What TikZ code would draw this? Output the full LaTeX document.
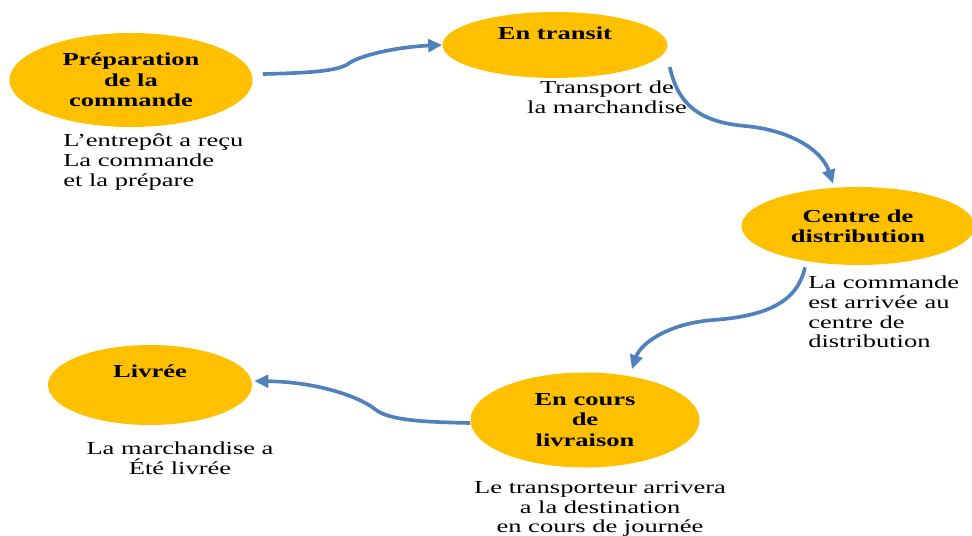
\documentclass[tikz,border=0pt]{standalone}
\usepackage{fontspec}
\setmainfont{Liberation Serif}[FakeStretch=1.45]
\def\px{0.025cm}
\usepackage{tikz}
\usetikzlibrary{shapes.geometric}
\usetikzlibrary{arrows.meta}
\definecolor{gold}{HTML}{FFC000}
\definecolor{flowblue}{HTML}{4F81BD}

\begin{document}
\begin{tikzpicture}[x=\px, y=-\px, font=\fontsize{13}{14}\selectfont]
		\tikzstyle{bubble}=[ellipse, fill=gold, inner sep=0pt, align=center, font=\fontsize{13}{14.5}\selectfont\bfseries]
		\tikzstyle{note}=[inner sep=0pt]
		\tikzstyle{flow}=[draw=flowblue, line width=2.6pt, -{Triangle[length=10pt,width=9pt]}]

		\useasboundingbox (0,0) rectangle (972,536);

		% Draw the steps
		\node[bubble, minimum width=243*\px, minimum height=94*\px] (prep) at (131,80) {Préparation\\de la\\commande};
		\node[bubble, minimum width=225*\px, minimum height=66*\px, text depth=17pt] (transit) at (555,45) {En transit};
		\node[bubble, minimum width=233*\px, minimum height=78*\px] (centre) at (858,226) {Centre de\\distribution};
		\node[bubble, minimum width=229*\px, minimum height=95*\px] (encours) at (585,420) {En cours\\de\\livraison};
		\node[bubble, minimum width=204*\px, minimum height=80*\px, text depth=19pt] (livree) at (150,385) {Livrée};

		% Draw the notes
		\node[note, anchor=west, align=left] (prepnote) at (63,162) {L’entrepôt a reçu\\La commande\\et la prépare};
		\node[note, align=center] (transnote) at (607,97) {Transport de\\la marchandise};
		\node[note, anchor=west, align=left] (centrenote) at (808,312) {La commande\\est arrivée au\\centre de\\distribution};
		\node[note, align=center] (livnote) at (180,458) {La marchandise a\\Été livrée};
		\node[note, align=center] (encoursnote) at (600,509) {Le transporteur arrivera\\a la destination\\en cours de journée};

		% Draw arrows
		\draw[flow] ([shift={(10,-6)}]prep.east) .. controls (310,73) and (337,71) .. (348,64) .. controls (358,56) and (395,47) .. (transit.west);
		\draw[flow] ([shift={(2,22)}]transit.east) .. controls (678,105) and (700,122) .. (745,126) .. controls (790,130) and (822,150) .. ([shift={(-25,-3)}]centre.north);
		\draw[flow] ([shift={(-53,2)}]centre.south) .. controls (798,300) and (770,316) .. (713,320) .. controls (665,324) and (640,345) .. ([shift={(47,-3)}]encours.north);
		\draw[flow] ([shift={(0,3)}]encours.west) .. controls (420,422) and (390,420) .. (376,410) .. controls (362,398) and (320,382) .. ([shift={(2,-4)}]livree.east);

\end{tikzpicture}
\end{document}
